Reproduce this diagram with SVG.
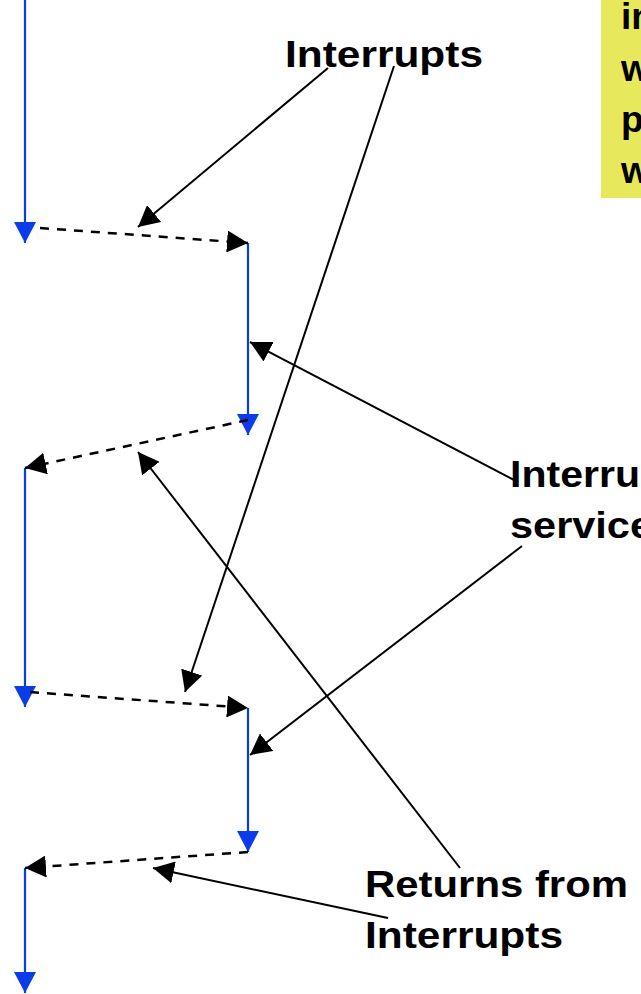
<svg xmlns="http://www.w3.org/2000/svg" width="641" height="994" viewBox="0 0 641 994">
  <style>
    .flow { stroke: #0a3de8; stroke-width: 2.2; fill: none; marker-end: url(#blueHead); }
    .jump { stroke: #000; stroke-width: 2.5; stroke-dasharray: 9 8; fill: none; marker-end: url(#blackHead); }
    .call { stroke: #000; stroke-width: 2; fill: none; marker-end: url(#blackHead); }
    .lbl { font-family: "Liberation Sans", Arial, sans-serif; font-weight: bold; font-size: 37px; fill: #000; }
  </style>
  <defs>
    <marker id="blueHead" markerUnits="userSpaceOnUse" markerWidth="22" markerHeight="22" refX="21" refY="11" orient="auto" viewBox="0 0 22 22">
      <path d="M0,0 L21,11 L0,22 z" fill="#0a3de8"/>
    </marker>
    <marker id="blackHead" markerUnits="userSpaceOnUse" markerWidth="22" markerHeight="22" refX="21" refY="11" orient="auto" viewBox="0 0 22 22">
      <path d="M0,0 L21,11 L0,22 z" fill="#000"/>
    </marker>
  </defs>

  <rect width="641" height="994" fill="#fff"/>

  <!-- note box at the right edge -->
  <g id="note">
    <rect x="601" y="0" width="45" height="198" fill="#e8e85c"/>
    <text class="lbl" x="621" y="29">in</text>
    <text class="lbl" x="621" y="81">w</text>
    <text class="lbl" x="621" y="132">p</text>
    <text class="lbl" x="621" y="183">w</text>
  </g>

  <!-- execution flow: main program and service routine segments -->
  <g id="connectors">
    <line class="flow" x1="25" y1="0" x2="25" y2="243"/>
    <line class="flow" x1="248" y1="243" x2="248" y2="435"/>
    <line class="flow" x1="25" y1="468" x2="25" y2="707"/>
    <line class="flow" x1="248" y1="708" x2="248" y2="852"/>
    <line class="flow" x1="25" y1="868" x2="25" y2="993"/>

    <!-- transfers of control -->
    <line class="jump" x1="40" y1="228" x2="248" y2="243"/>
    <line class="jump" x1="248" y1="420" x2="25" y2="468"/>
    <line class="jump" x1="30" y1="692" x2="248" y2="708"/>
    <line class="jump" x1="248" y1="852" x2="25" y2="868"/>

    <!-- callout pointers -->
    <line class="call" x1="328" y1="68" x2="138" y2="227"/>
    <line class="call" x1="394" y1="66" x2="185" y2="692"/>
    <line class="call" x1="518" y1="482" x2="250" y2="342"/>
    <line class="call" x1="522" y1="546" x2="250" y2="755"/>
    <line class="call" x1="460" y1="868" x2="138" y2="452"/>
    <line class="call" x1="388" y1="918" x2="153" y2="868"/>
  </g>

  <g id="label-interrupts">
    <text class="lbl" x="285" y="67" textLength="198" lengthAdjust="spacingAndGlyphs">Interrupts</text>
  </g>
  <g id="label-service">
    <text class="lbl" x="510" y="487" textLength="130" lengthAdjust="spacingAndGlyphs">Interru</text>
    <text class="lbl" x="510" y="538" textLength="143" lengthAdjust="spacingAndGlyphs">service</text>
  </g>
  <g id="label-returns">
    <text class="lbl" x="365" y="897" textLength="263" lengthAdjust="spacingAndGlyphs">Returns from</text>
    <text class="lbl" x="365" y="948" textLength="198" lengthAdjust="spacingAndGlyphs">Interrupts</text>
  </g>
</svg>
